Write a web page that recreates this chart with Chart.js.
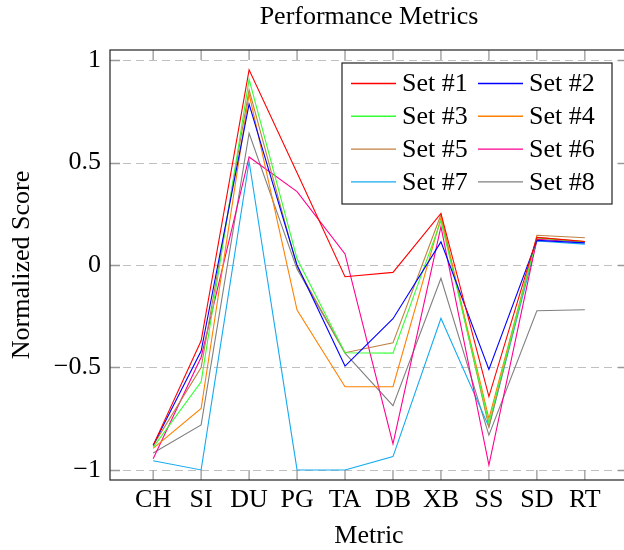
<!DOCTYPE html>
<html lang="en">
<head>
  <meta charset="UTF-8" />
  <title>Performance Metrics</title>
  <script src="https://cdn.jsdelivr.net/npm/chart.js"></script>
  <style>
    html, body { margin: 0; padding: 0; background: #fff; overflow: hidden; }
    #wrap { width: 640px; height: 550px; }
  </style>
</head>
<body>
  <div id="wrap"><canvas id="perfChart" width="640" height="550"></canvas></div>

  <script>
    // categories and tick values
    const metrics = ["CH", "SI", "DU", "PG", "TA", "DB", "XB", "SS", "SD", "RT"];
    const yTicks = [-1, -0.5, 0, 0.5, 1];

    // series
    const set1 = [-0.880, -0.370, 0.952, 0.450, -0.057, -0.036, 0.252, -0.642, 0.135, 0.115];
    const set2 = [-0.880, -0.420, 0.785, 0.000, -0.493, -0.262, 0.113, -0.509, 0.120, 0.108];
    const set3 = [-0.890, -0.570, 0.906, 0.030, -0.428, -0.430, 0.215, -0.770, 0.132, 0.112];
    const set4 = [-0.895, -0.700, 0.835, -0.220, -0.594, -0.594, 0.230, -0.750, 0.135, 0.115];
    const set5 = [-0.880, -0.500, 0.855, -0.010, -0.428, -0.380, 0.245, -0.790, 0.145, 0.133];
    const set6 = [-0.945, -0.450, 0.527, 0.358, 0.054, -0.873, 0.187, -0.976, 0.125, 0.113];
    const set7 = [-0.955, -1.000, 0.505, -1.000, -1.000, -0.935, -0.260, -0.790, 0.117, 0.102];
    const set8 = [-0.917, -0.780, 0.643, -0.020, -0.430, -0.686, -0.065, -0.830, -0.223, -0.218];

    const seriesNames = ["Set #1", "Set #2", "Set #3", "Set #4", "Set #5", "Set #6", "Set #7", "Set #8"];
    const seriesColors = ["#ff0000", "#0000ff", "#33ff33", "#ff8000", "#bf8040", "#ff0090", "#14aaf0", "#808080"];
    const allSeries = [set1, set2, set3, set4, set5, set6, set7, set8];

    const FONT = "'Liberation Serif', 'Times New Roman', serif";

    const datasets = allSeries.map((vals, k) => ({
      label: seriesNames[k],
      data: vals.map((v, i) => ({ x: i, y: v })),
      borderColor: seriesColors[k],
      backgroundColor: seriesColors[k],
      borderWidth: 1.1,
      pointRadius: 0,
      tension: 0,
      fill: false
    }));

    // frame, dashed grid, inward ticks, titles and legend (pgfplots look)
    const decor = {
      id: "decor",
      beforeDatasetsDraw(chart) {
        const { ctx, chartArea: a, scales: { y } } = chart;
        ctx.save();
        ctx.strokeStyle = "#c0c0c0";
        ctx.lineWidth = 1;
        ctx.setLineDash([8, 5]);
        yTicks.forEach(v => {
          const py = Math.round(y.getPixelForValue(v)) + 0.5;
          ctx.beginPath();
          ctx.moveTo(a.left, py);
          ctx.lineTo(a.right, py);
          ctx.stroke();
        });
        ctx.restore();
      },
      afterDatasetsDraw(chart) {
        const { ctx, chartArea: a, scales: { x, y } } = chart;
        ctx.save();

        // tick marks
        ctx.strokeStyle = "#999";
        ctx.lineWidth = 1.3;
        metrics.forEach((m, i) => {
          const px = x.getPixelForValue(i);
          ctx.beginPath();
          ctx.moveTo(px, a.bottom); ctx.lineTo(px, a.bottom - 10);
          ctx.moveTo(px, a.top); ctx.lineTo(px, a.top + 10);
          ctx.stroke();
        });
        yTicks.forEach(v => {
          const py = Math.round(y.getPixelForValue(v)) + 0.5;
          ctx.beginPath();
          ctx.moveTo(a.left, py); ctx.lineTo(a.left + 10, py);
          ctx.moveTo(a.right, py); ctx.lineTo(a.right - 10, py);
          ctx.stroke();
        });

        // frame
        ctx.strokeStyle = "#333";
        ctx.lineWidth = 1.3;
        ctx.strokeRect(a.left, a.top, a.right - a.left, a.bottom - a.top);

        // titles
        ctx.fillStyle = "#000";
        ctx.font = "26px " + FONT;
        ctx.textAlign = "center";
        ctx.textBaseline = "middle";
        ctx.fillText("Performance Metrics", (a.left + a.right) / 2, 17);
        ctx.fillText("Metric", (a.left + a.right) / 2, 536);
        ctx.save();
        ctx.translate(22, (a.top + a.bottom) / 2);
        ctx.rotate(-Math.PI / 2);
        ctx.fillText("Normalized Score", 0, 0);
        ctx.restore();

        // legend box
        const bx = 342, by = 63, bw = 270, bh = 141;
        ctx.fillStyle = "#fff";
        ctx.fillRect(bx, by, bw, bh);
        ctx.strokeStyle = "#222";
        ctx.lineWidth = 1.2;
        ctx.strokeRect(bx, by, bw, bh);
        ctx.textAlign = "left";
        chart.data.datasets.forEach((ds, k) => {
          const col = k % 2, row = Math.floor(k / 2);
          const lx = col === 0 ? 351 : 478;
          const ly = 83.5 + row * 32.8;
          ctx.strokeStyle = ds.borderColor;
          ctx.lineWidth = 1.4;
          ctx.beginPath();
          ctx.moveTo(lx, ly); ctx.lineTo(lx + 45, ly);
          ctx.stroke();
          ctx.fillStyle = "#000";
          ctx.fillText(ds.label, lx + 51, ly + 1);
        });

        ctx.restore();
      }
    };

    new Chart(document.getElementById("perfChart"), {
      type: "line",
      data: { datasets },
      options: {
        responsive: false,
        animation: false,
        devicePixelRatio: 1,
        layout: { padding: { top: 50, right: 12, bottom: 0, left: 0 } },
        plugins: {
          legend: { display: false },
          title: { display: false },
          tooltip: { enabled: false }
        },
        scales: {
          x: {
            type: "linear",
            min: -0.9,
            max: 9.9,
            grid: { display: false, drawTicks: false },
            border: { display: false },
            afterFit: s => { s.height = 70; },
            afterBuildTicks: s => { s.ticks = metrics.map((_, i) => ({ value: i })); },
            ticks: {
              padding: 5,
              color: "#000",
              font: { family: FONT, size: 26 },
              maxRotation: 0,
              autoSkip: false,
              callback: v => metrics[v]
            }
          },
          y: {
            min: -1.049,
            max: 1.049,
            grid: { display: false, drawTicks: false },
            border: { display: false },
            afterFit: s => { s.width = 110; },
            afterBuildTicks: s => { s.ticks = yTicks.map(v => ({ value: v })); },
            ticks: {
              padding: 9,
              color: "#000",
              font: { family: FONT, size: 26 },
              callback: v => (v < 0 ? "\u2212" + Math.abs(v) : String(v))
            }
          }
        }
      },
      plugins: [decor]
    });
  </script>
</body>
</html>
